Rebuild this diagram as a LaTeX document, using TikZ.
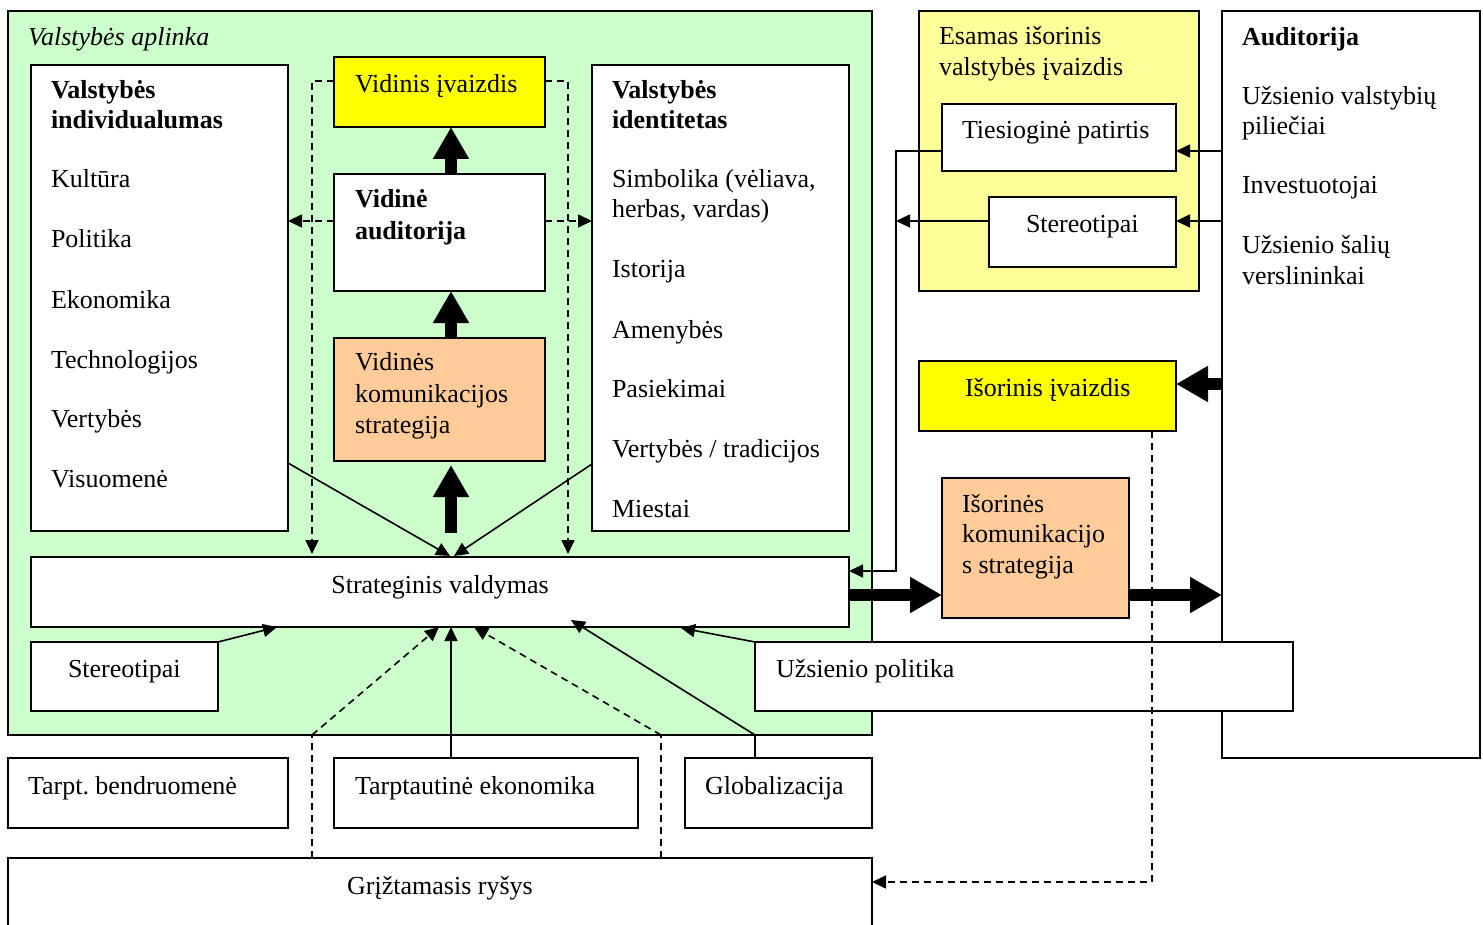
\documentclass[tikz,border=0pt]{standalone}
\usepackage{fontspec}
\setmainfont{Liberation Serif}
\usetikzlibrary{arrows.meta,fit,calc}
\definecolor{envgreen}{HTML}{CCFFCC}
\definecolor{imgyellow}{HTML}{FFFF00}
\definecolor{paleyellow}{HTML}{FFFF99}
\definecolor{stratorange}{HTML}{FFCC99}
\frenchspacing
\begin{document}
\begin{tikzpicture}[x=0.5pt,y=-0.5pt,
  font=\fontsize{13}{15}\selectfont,
  frame/.style={draw, line width=0.9pt, inner sep=0pt, outer sep=0pt, fill=white},
  txt/.style={anchor=base west, inner sep=0pt, outer sep=0pt, yshift=-1pt},
  ctxt/.style={anchor=base, inner sep=0pt, outer sep=0pt, yshift=-1pt},
  conn/.style={line width=0.8pt, -{Triangle[length=7pt,width=6.5pt]}},
  dconn/.style={conn, dash pattern=on 3.5pt off 2.5pt},
  dline/.style={line width=0.8pt, dash pattern=on 3.5pt off 2.5pt},
  bigarrow/.style={line width=6pt, -{Triangle[length=16pt,width=17pt]}}]
\useasboundingbox (0,0) rectangle (1483,925);

% ---------- state environment ----------
\node[frame, fill=envgreen, fit={(8,11)(872,735)}] (env) {};
\node[txt, font=\fontsize{13}{15}\selectfont\itshape] (envT) at (28,44) {Valstybės aplinka};

% individuality column
\node[frame, fit={(31,65)(288,531)}] (indiv) {};
\node[txt, font=\fontsize{13}{15}\selectfont\bfseries] (indT1) at (51,97) {Valstybės};
\node[txt, font=\fontsize{13}{15}\selectfont\bfseries] (indT2) at (51,127) {individualumas};
\node[txt] (indA) at (51,186) {Kultūra};
\node[txt] (indB) at (51,246) {Politika};
\node[txt] (indC) at (51,306) {Ekonomika};
\node[txt] (indD) at (51,366) {Technologijos};
\node[txt] (indE) at (51,425) {Vertybės};
\node[txt] (indF) at (51,485) {Visuomenė};

% inner image, audience, strategy
\node[frame, fill=imgyellow, fit={(334,57)(545,127)}] (vi) {};
\node[txt] (viT) at (355,91) {Vidinis įvaizdis};
\node[frame, fit={(334,174)(545,291)}] (va) {};
\node[txt, font=\fontsize{13}{15}\selectfont\bfseries] (vaT1) at (355,206) {Vidinė};
\node[txt, font=\fontsize{13}{15}\selectfont\bfseries] (vaT2) at (355,238) {auditorija};
\node[frame, fill=stratorange, fit={(334,338)(545,461)}] (vk) {};
\node[txt] (vkT1) at (355,369) {Vidinės};
\node[txt] (vkT2) at (355,400) {komunikacijos};
\node[txt] (vkT3) at (355,431) {strategija};

% identity column
\node[frame, fit={(592,65)(849,531)}] (ident) {};
\node[txt, font=\fontsize{13}{15}\selectfont\bfseries] (idT1) at (612,97) {Valstybės};
\node[txt, font=\fontsize{13}{15}\selectfont\bfseries] (idT2) at (612,127) {identitetas};
\node[txt] (idA) at (612,186) {Simbolika (vėliava,};
\node[txt] (idA2) at (612,216) {herbas, vardas)};
\node[txt] (idB) at (612,276) {Istorija};
\node[txt] (idC) at (612,336) {Amenybės};
\node[txt] (idD) at (612,395) {Pasiekimai};
\node[txt] (idE) at (612,455) {Vertybės / tradicijos};
\node[txt] (idF) at (612,515) {Miestai};

% strategic management
\node[frame, fit={(31,557)(849,627)}] (sv) {};
\node[ctxt] (svT) at (440,591) {Strateginis valdymas};

\node[frame, fit={(31,642)(218,711)}] (st1) {};
\node[txt] (st1T) at (68,675) {Stereotipai};

% ---------- external factors ----------
\node[frame, fit={(8,758)(288,828)}] (tb) {};
\node[txt] (tbT) at (28,792) {Tarpt. bendruomenė};
\node[frame, fit={(334,758)(638,828)}] (te) {};
\node[txt] (teT) at (355,792) {Tarptautinė ekonomika};
\node[frame, fit={(685,758)(872,828)}] (gl) {};
\node[txt] (glT) at (705,792) {Globalizacija};
\node[frame, fit={(8,858)(872,945)}] (gr) {};
\node[ctxt] (grT) at (440,892) {Grįžtamasis ryšys};

% ---------- existing external image ----------
\node[frame, fill=paleyellow, fit={(919,11)(1199,291)}] (es) {};
\node[txt] (esT1) at (939,43) {Esamas išorinis};
\node[txt] (esT2) at (939,74) {valstybės įvaizdis};
\node[frame, fit={(942,104)(1176,171)}] (tp) {};
\node[txt] (tpT) at (962,137) {Tiesioginė patirtis};
\node[frame, fit={(989,197)(1176,267)}] (st2) {};
\node[txt] (st2T) at (1026,231) {Stereotipai};

% audience
\node[frame, fit={(1222,11)(1480,758)}] (aud) {};
\node[txt, font=\fontsize{13}{15}\selectfont\bfseries] (audT) at (1242,44) {Auditorija};
\node[txt] (audA1) at (1242,103) {Užsienio valstybių};
\node[txt] (audA2) at (1242,133) {piliečiai};
\node[txt] (audB) at (1242,192) {Investuotojai};
\node[txt] (audC1) at (1242,252) {Užsienio šalių};
\node[txt] (audC2) at (1242,283) {verslininkai};

\node[frame, fill=imgyellow, fit={(919,361)(1176,431)}] (ii) {};
\node[txt] (iiT) at (965,394) {Išorinis įvaizdis};
\node[frame, fill=stratorange, fit={(942,478)(1129,618)}] (ik) {};
\node[txt] (ikT1) at (962,510) {Išorinės};
\node[txt] (ikT2) at (962,540) {komunikacijo};
\node[txt] (ikT3) at (962,571) {s strategija};

% foreign policy box lies over the frames it crosses
\node[frame, fit={(755,642)(1293,711)}] (up) {};
\node[txt] (upT) at (776,675) {Užsienio politika};

% ---------- helper coordinates ----------
\coordinate (ax) at (451,0);
\coordinate (dl) at (312,81);
\coordinate (dr) at (568,81);
\coordinate (my) at (0,221);
\coordinate (l1) at (288,463);
\coordinate (l2) at (592,464);
\coordinate (s1) at (450,556);
\coordinate (s2) at (454,556);
\coordinate (rx) at (896,151);
\coordinate (ry) at (0,571);
\coordinate (hy) at (0,384);
\coordinate (ty) at (0,595);
\coordinate (fx) at (1152,882);
\coordinate (b1) at (277,627);
\coordinate (k1) at (312,735);
\coordinate (b2) at (439,627);
\coordinate (k2) at (661,735);
\coordinate (b3) at (474,627);
\coordinate (k3) at (755,735);
\coordinate (b4) at (571,620);
\coordinate (b5) at (681,628);

% ---------- internal connectors ----------
\draw[bigarrow] (va.north -| ax) -- (vi.south -| ax);
\draw[bigarrow] (vk.north -| ax) -- (va.south -| ax);
\draw[bigarrow] ($(sv.north -| ax)+(0,-24)$) -- ($(vk.south -| ax)+(0,4)$);

\draw[dconn] (vi.west |- dl) -- (dl) -- ($(dl |- sv.north)+(0,-3)$);
\draw[dconn] (vi.east |- dr) -- (dr) -- ($(dr |- sv.north)+(0,-3)$);
\draw[dconn] (va.west |- my) -- (indiv.east |- my);
\draw[dconn] (va.east |- my) -- (ident.west |- my);

\draw[conn] (l1) -- (s1);
\draw[conn] (l2) -- (s2);

% ---------- external image connectors ----------
\draw[conn] (tp.west |- rx) -- (rx) -- (rx |- ry) -- (sv.east |- ry);
\draw[conn] (st2.west |- my) -- (rx |- my);
\draw[conn] (aud.west |- rx) -- (tp.east |- rx);
\draw[conn] (aud.west |- my) -- (st2.east |- my);

\draw[bigarrow] (aud.west |- hy) -- (ii.east |- hy);
\draw[bigarrow] (sv.east |- ty) -- (ik.west |- ty);
\draw[bigarrow] (ik.east |- ty) -- (aud.west |- ty);

\draw[dconn] (ii.south -| fx) -- (fx) -- (gr.east |- fx);

% ---------- influences on strategic management ----------
\draw[conn] (st1.north east) -- (b1);
\draw[dline] (gr.north -| k1) -- (k1);
\draw[dconn] (k1) -- (b2);
\draw[conn] (te.north -| ax) -- (sv.south -| ax);
\draw[dline] (gr.north -| k2) -- (k2);
\draw[dconn] (k2) -- (b3);
\draw[conn] (gl.north -| k3) -- (k3) -- (b4);
\draw[conn] (up.north west) -- (b5);
\end{tikzpicture}
\end{document}
